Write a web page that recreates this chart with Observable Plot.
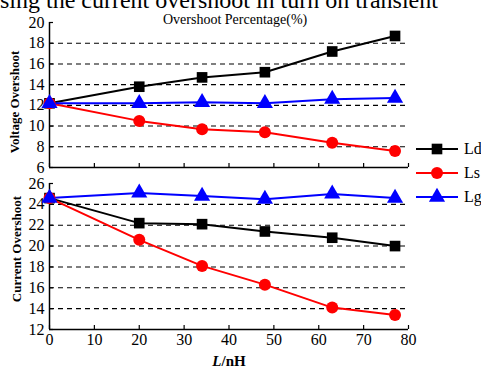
<!DOCTYPE html>
<html><head><meta charset="utf-8">
<script src="https://cdn.jsdelivr.net/npm/d3@7"></script>
<script src="https://cdn.jsdelivr.net/npm/@observablehq/plot@0.6"></script>
<style>
html,body{margin:0;padding:0;background:#fff;}
#wrap{position:relative;width:481px;height:370px;overflow:hidden;font-family:"Liberation Serif","Times New Roman",serif;color:#000;}
#wrap svg{position:absolute;left:0;overflow:visible;font-family:"Liberation Serif","Times New Roman",serif !important;}
#wrap svg text{font-family:"Liberation Serif","Times New Roman",serif !important;font-variant-numeric:normal !important;}
.lbl{position:absolute;white-space:nowrap;}
</style></head>
<body><div id="wrap"></div>
<script>
const inductance = [0, 20, 34, 48, 63, 77];
const seriesNames = ["Ld", "Ls", "Lg"];
const seriesColors = ["black", "red", "blue"];
const seriesSymbols = ["square", "circle", "triangle"];
const voltageLd = [12.2, 13.8, 14.7, 15.2, 17.2, 18.7];
const voltageLs = [12.2, 10.5, 9.7, 9.4, 8.4, 7.6];
const voltageLg = [12.2, 12.2, 12.3, 12.2, 12.6, 12.7];
const currentLd = [24.6, 22.2, 22.1, 21.4, 20.8, 20.0];
const currentLs = [24.6, 20.6, 18.1, 16.3, 14.1, 13.4];
const currentLg = [24.6, 25.1, 24.8, 24.5, 25.0, 24.6];
const xTicks = [0, 10, 20, 30, 40, 50, 60, 70, 80];
const voltageTicks = [6, 8, 10, 12, 14, 16, 18, 20];
const currentTicks = [12, 14, 16, 18, 20, 22, 24, 26];

function rows(vals) {
  const out = [];
  seriesNames.forEach((s, i) => vals[i].forEach((v, j) => out.push({series: s, L: inductance[j], v})));
  return out;
}
const voltageData = rows([voltageLd, voltageLs, voltageLg]);
const currentData = rows([currentLd, currentLs, currentLg]);

const font = "Liberation Serif, Times New Roman, serif";
function panel(data, yTicks, opts) {
  const ydom = [yTicks[0], yTicks[yTicks.length - 1]];
  return Plot.plot({
    width: 481, height: opts.height,
    marginLeft: 49, marginRight: 73, marginTop: opts.mt, marginBottom: opts.mb,
    style: {fontFamily: font, fontSize: "16px", color: "black", background: "transparent", overflow: "visible"},
    x: {domain: [0, 80]},
    y: {domain: ydom},
    color: {domain: seriesNames, range: seriesColors},
    symbol: {domain: seriesNames, range: seriesSymbols},
    marks: [
      Plot.ruleY(yTicks.slice(1, -1), {stroke: "black", strokeWidth: 1.1, strokeDasharray: "5,4"}),
      Plot.axisY({ticks: yTicks, tickSize: -4, tickPadding: 9, label: null, strokeWidth: 1.2, fontSize: 16}),
      Plot.axisX({ticks: xTicks, tickSize: -4, tickPadding: 8, label: null, strokeWidth: 1.2, fontSize: 16,
        tickFormat: opts.xlabels ? (d => d) : (() => "")}),
      Plot.ruleX([0], {stroke: "black", strokeWidth: 1.5}),
      Plot.ruleY([ydom[0]], {stroke: "black", strokeWidth: 1.5}),
      Plot.line(data, {x: "L", y: "v", z: "series", stroke: "series", strokeWidth: 2}),
      Plot.dot(data, {x: "L", y: "v", symbol: "series", fill: "series", stroke: "none", r: 6})
    ]
  });
}

const wrap = document.getElementById("wrap");
const topPanel = panel(voltageData, voltageTicks, {height: 175, mt: 22, mb: 8, xlabels: false});
topPanel.style.top = "0px";
wrap.appendChild(topPanel);
const botPanel = panel(currentData, currentTicks, {height: 200, mt: 13, mb: 41, xlabels: true});
botPanel.style.top = "170px";
wrap.appendChild(botPanel);

function label(text, css, html) {
  const d = document.createElement("div");
  d.className = "lbl";
  if (html) d.innerHTML = text; else d.textContent = text;
  Object.assign(d.style, css);
  wrap.appendChild(d);
  return d;
}
label("using the current overshoot in turn on transient", {left: "-12px", top: "-14px", fontSize: "24px", lineHeight: "28px"});
label("Overshoot Percentage(%)", {left: "163px", top: "12px", fontSize: "14px", lineHeight: "16px"});
label("Voltage Overshoot", {left: "15px", top: "102px", fontSize: "13px", fontWeight: "bold", transform: "translate(-50%,-50%) rotate(-90deg)"});
label("Current Overshoot", {left: "17px", top: "249px", fontSize: "13px", fontWeight: "bold", transform: "translate(-50%,-50%) rotate(-90deg)"});
label("<i>L</i>/nH", {left: "229px", top: "361px", fontSize: "15px", fontWeight: "bold", transform: "translate(-50%,-50%)"}, true);

// legend
const legendY = [149, 173, 197];
seriesNames.forEach((s, i) => {
  const ns = "http://www.w3.org/2000/svg";
  const svg = document.createElementNS(ns, "svg");
  svg.setAttribute("width", 44); svg.setAttribute("height", 16);
  svg.style.left = "415px"; svg.style.top = (legendY[i] - 8) + "px";
  const ln = document.createElementNS(ns, "line");
  ln.setAttribute("x1", 1); ln.setAttribute("x2", 43); ln.setAttribute("y1", 8); ln.setAttribute("y2", 8);
  ln.setAttribute("stroke", seriesColors[i]); ln.setAttribute("stroke-width", 2);
  svg.appendChild(ln);
  const sym = {square: d3.symbolSquare, circle: d3.symbolCircle, triangle: d3.symbolTriangle}[seriesSymbols[i]];
  const p = document.createElementNS(ns, "path");
  p.setAttribute("d", d3.symbol(sym, Math.PI * 36)());
  p.setAttribute("transform", "translate(22,8)");
  p.setAttribute("fill", seriesColors[i]);
  svg.appendChild(p);
  wrap.appendChild(svg);
  label(s, {left: "464px", top: (legendY[i] - 10) + "px", fontSize: "16px", lineHeight: "20px"});
});
</script></body></html>
